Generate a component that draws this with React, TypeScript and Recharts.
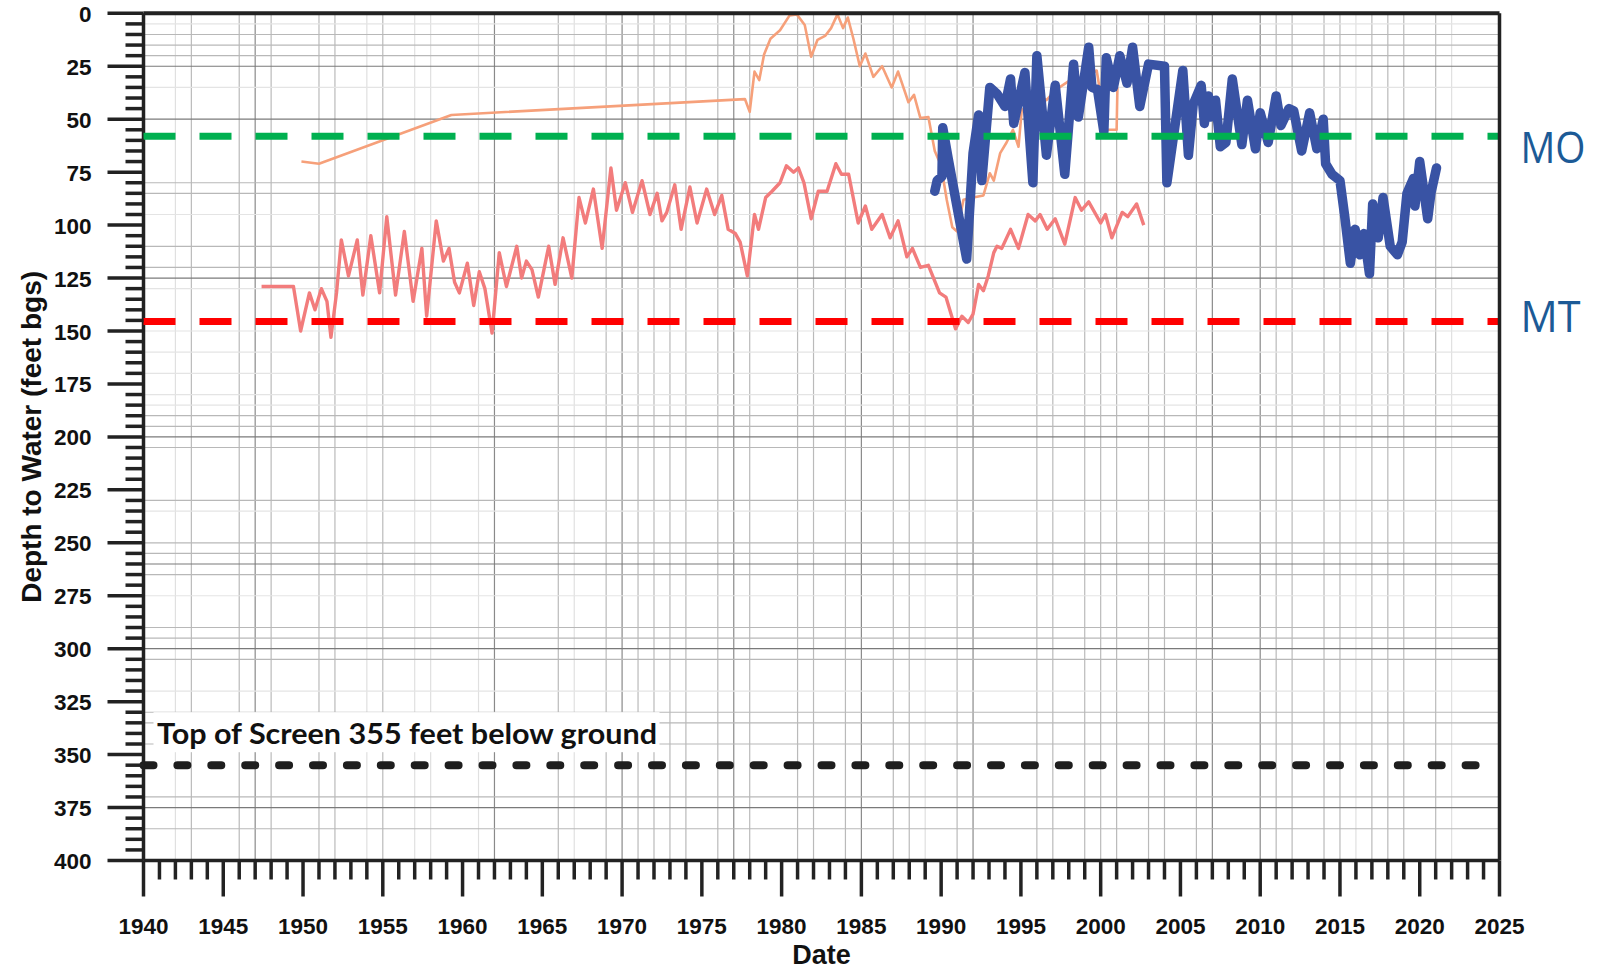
import React from "react";
import { LineChart, Line, XAxis, YAxis, ReferenceLine } from "recharts";

// depth to water hydrograph, three wells + thresholds

const xLabels = [1940, 1945, 1950, 1955, 1960, 1965, 1970, 1975, 1980, 1985, 1990, 1995, 2000, 2005, 2010, 2015, 2020, 2025];
const yLabels = [0, 25, 50, 75, 100, 125, 150, 175, 200, 225, 250, 275, 300, 325, 350, 375, 400];
const xTicks = Array.from({ length: 86 }, (_, i) => 1940 + i);
const yTicks = Array.from({ length: 81 }, (_, i) => i * 5);

const vGridDark = [1947, 1962, 1970, 1977, 1985, 1992, 2007, 2010];
const vGridMid = [1943, 1946, 1948, 1951, 1952, 1955, 1966, 1969, 1971, 1972, 1973, 1974, 1976, 1978, 1981, 1982, 1984, 1987, 1988, 1991, 1996, 1997, 1999, 2000, 2001, 2003, 2004, 2006, 2011, 2012, 2014, 2015, 2017, 2018, 2019, 2021];
const vGridLight = [1942, 1954, 1957, 1958, 1961, 1967, 1989, 2016, 2022];
const hGridDark = [25, 50, 125, 200, 260, 300, 375];
const hGridMid = [10, 15, 20, 80, 85, 110, 120, 190, 195, 205, 230, 250, 255, 265, 290, 295, 305, 330, 335, 345, 370, 385];
const hGridLight = [5, 35, 95, 130, 150, 160, 170, 180, 185, 235, 275, 320];

const MO_LEVEL = 58;
const MT_LEVEL = 145.5;
const SCREEN_TOP = 355;

const orangeWell: [number, number][] = [
  [1949.9, 70], [1951.0, 71], [1959.3, 48], [1977.7, 40.5], [1978.0, 46.5], [1978.3, 27.5],
  [1978.6, 31.5], [1978.9, 19.5], [1979.3, 12], [1979.9, 8], [1980.5, 1], [1980.95, 0.5],
  [1981.45, 5.5], [1981.85, 20.5], [1982.25, 12.5], [1982.75, 10.5], [1983.1, 7], [1983.5, 0.5],
  [1983.85, 7], [1984.15, 2], [1984.5, 12], [1984.9, 25], [1985.25, 19], [1985.75, 30],
  [1986.3, 25], [1986.9, 35], [1987.3, 27.5], [1987.95, 42], [1988.3, 38.5], [1988.7, 49.5],
  [1989.2, 49], [1989.6, 65], [1990.0, 72], [1990.35, 88], [1990.7, 101], [1991.0, 103],
  [1991.4, 88], [1992.0, 87], [1992.65, 86], [1993.05, 75.5], [1993.3, 79], [1993.7, 66],
  [1994.1, 61], [1994.5, 55], [1994.85, 63], [1995.05, 46], [1995.5, 42], [1996.0, 38],
  [1996.6, 41], [1997.2, 36], [1998.0, 32], [1999.0, 30], [1999.75, 27], [2000.35, 55],
  [2001.0, 55], [2001.05, 35],
];

const redWell: [number, number][] = [
  [1947.4, 129], [1949.4, 129], [1949.85, 150], [1950.4, 132], [1950.75, 140], [1951.15, 130],
  [1951.5, 136], [1951.75, 153], [1952.1, 132], [1952.4, 107], [1952.85, 124], [1953.4, 107],
  [1953.75, 133], [1954.25, 105], [1954.8, 132], [1955.25, 96], [1955.8, 133], [1956.35, 103],
  [1956.9, 136], [1957.45, 111], [1957.75, 143], [1958.35, 98], [1958.8, 117], [1959.15, 111],
  [1959.5, 127], [1959.8, 132], [1960.3, 118], [1960.7, 138], [1961.05, 122], [1961.4, 130],
  [1961.85, 151], [1962.3, 113], [1962.75, 129], [1963.4, 110], [1963.7, 125], [1964.0, 117],
  [1964.35, 121], [1964.75, 134], [1965.4, 110], [1965.8, 128], [1966.3, 106], [1966.85, 125],
  [1967.3, 87], [1967.7, 99], [1968.2, 83], [1968.75, 111], [1969.3, 73], [1969.65, 93],
  [1970.2, 80], [1970.65, 94], [1971.25, 79], [1971.75, 95], [1972.2, 85], [1972.5, 98],
  [1972.8, 94], [1973.3, 81], [1973.7, 102], [1974.25, 82], [1974.7, 99], [1975.3, 83],
  [1975.8, 95], [1976.25, 86], [1976.65, 102], [1977.1, 104], [1977.4, 108], [1977.85, 124],
  [1978.3, 95], [1978.55, 102], [1979.0, 87], [1979.4, 84], [1979.9, 80], [1980.3, 72],
  [1980.75, 75], [1981.05, 73], [1981.4, 80], [1981.85, 97], [1982.3, 84], [1982.85, 84],
  [1983.4, 71], [1983.75, 76], [1984.2, 76], [1984.8, 99], [1985.25, 91], [1985.65, 102],
  [1986.3, 95], [1986.8, 106], [1987.3, 98], [1987.85, 115], [1988.2, 111], [1988.7, 120],
  [1989.2, 119], [1989.9, 132], [1990.3, 134], [1990.9, 149], [1991.3, 143], [1991.7, 146],
  [1992.0, 142], [1992.35, 128], [1992.65, 131], [1992.95, 124], [1993.3, 113], [1993.5, 110],
  [1993.8, 111], [1994.35, 102], [1994.85, 111], [1995.45, 95], [1995.9, 98], [1996.2, 95],
  [1996.65, 102], [1997.15, 97], [1997.75, 109], [1998.4, 87], [1998.8, 93], [1999.25, 89],
  [2000.0, 99], [2000.3, 95], [2000.7, 106], [2001.35, 94], [2001.7, 96], [2002.25, 90],
  [2002.7, 100],
];

const blueWell: [number, number][] = [
  [1989.6, 84], [1989.75, 79], [1990.05, 77], [1990.1, 54], [1990.45, 69], [1991.6, 116],
  [1992.0, 66], [1992.35, 48], [1992.55, 79], [1993.05, 35], [1993.5, 38], [1994.0, 44],
  [1994.35, 31], [1994.55, 52], [1995.25, 28], [1995.75, 80], [1996.0, 20], [1996.6, 67],
  [1997.15, 34], [1997.75, 76], [1998.3, 24], [1998.6, 49], [1999.25, 16], [1999.45, 35],
  [1999.8, 36], [2000.2, 56], [2000.35, 21], [2000.8, 35], [2001.2, 20], [2001.65, 33],
  [2002.0, 16], [2002.45, 44], [2003.0, 24], [2004.0, 25], [2004.15, 80], [2005.15, 27],
  [2005.5, 67], [2005.8, 43], [2006.3, 34], [2006.5, 52], [2006.75, 39], [2006.9, 49],
  [2007.2, 41], [2007.5, 63], [2007.85, 61], [2008.25, 31], [2008.85, 62], [2009.2, 41],
  [2009.7, 64], [2010.0, 47], [2010.5, 61], [2011.0, 39], [2011.3, 53], [2011.8, 45],
  [2012.1, 46], [2012.6, 65], [2013.1, 47], [2013.55, 64], [2013.95, 50], [2014.1, 71],
  [2014.5, 76], [2015.0, 79], [2015.3, 96], [2015.65, 118], [2015.95, 102], [2016.25, 114],
  [2016.5, 104], [2016.85, 123], [2017.05, 90], [2017.4, 106], [2017.7, 87], [2018.15, 110],
  [2018.6, 114], [2018.9, 108], [2019.2, 85], [2019.6, 78], [2019.7, 91], [2020.0, 70],
  [2020.5, 97], [2020.7, 85], [2021.05, 73],
];

const toPoints = (s: [number, number][]) => s.map(([year, depth]) => ({ year, depth }));

const INK = "#222";
const TICK_FONT = "'Liberation Sans', Arial, sans-serif";

function XTick(props: any) {
  const { x, y, payload } = props;
  const major = xLabels.includes(payload.value);
  return (
    <g>
      <line x1={x} x2={x} y1={y} y2={y + (major ? 36 : 19)} stroke={INK} strokeWidth={3.5} />
      {major && (
        <text x={x} y={y + 73.5} textAnchor="middle" fontFamily={TICK_FONT} fontWeight={700} fontSize={22.5} fill="#111">
          {payload.value}
        </text>
      )}
    </g>
  );
}

function YTick(props: any) {
  const { x, y, payload } = props;
  const major = yLabels.includes(payload.value);
  return (
    <g>
      <line x1={x - (major ? 36 : 18)} x2={x} y1={y} y2={y} stroke={INK} strokeWidth={3.5} />
      {major && (
        <text x={x - 52} y={y + 8.5} textAnchor="end" fontFamily={TICK_FONT} fontWeight={700} fontSize={22.5} fill="#111">
          {payload.value}
        </text>
      )}
    </g>
  );
}

const dateLabel = (p: any) => {
  const vb = p.viewBox;
  return (
    <text x={vb.x + vb.width / 2} y={vb.y + 103.5} textAnchor="middle" fontFamily={TICK_FONT} fontWeight={700} fontSize={27} fill="#111">
      Date
    </text>
  );
};

const depthLabel = (p: any) => {
  const vb = p.viewBox;
  const cx = vb.x + 41;
  const cy = vb.y + vb.height / 2;
  return (
    <text x={cx} y={cy} transform={`rotate(-90, ${cx}, ${cy})`} textAnchor="middle" fontFamily={TICK_FONT} fontWeight={700} fontSize={28} fill="#111">
      Depth to Water (feet bgs)
    </text>
  );
};

const sideLabel = (txt: string, dy: number) => (p: any) => {
  const vb = p.viewBox;
  return (
    <text x={vb.x + vb.width + 21} y={vb.y + dy} fontFamily="'Open Sans', sans-serif" fontSize={43} fill="#1c5a96" textLength={txt === "MO" ? 65 : 60} lengthAdjust="spacingAndGlyphs">
      {txt}
    </text>
  );
};

const screenLabel = (p: any) => {
  const vb = p.viewBox;
  return (
    <g>
      <rect x={vb.x + 10} y={vb.y - 53} width={506} height={40} fill="#fff" />
      <text x={vb.x + 13.5} y={vb.y - 21.5} fontFamily="Lato, sans-serif" fontWeight={700} fontSize={28} fill="#111" textLength={500} lengthAdjust="spacingAndGlyphs">
        Top of Screen 355 feet below ground
      </text>
    </g>
  );
};

export default function App() {
  const gridV = (vals: number[], color: string) =>
    vals.map((v) => <ReferenceLine key={`v${v}`} x={v} stroke={color} strokeWidth={1.2} zIndex={-50} />);
  const gridH = (vals: number[], color: string) =>
    vals.map((v) => <ReferenceLine key={`h${v}`} y={v} stroke={color} strokeWidth={1.2} zIndex={-50} />);

  return (
    <div style={{ position: "absolute", left: 0, top: 0, width: 1603, height: 970, background: "#fff" }}>
      <LineChart width={1603} height={970} margin={{ top: 13.3, right: 103.5, bottom: 9.5, left: 0 }}>
        {gridV(vGridLight, "#e0e0e0")}
        {gridV(vGridMid, "#bababa")}
        {gridV(vGridDark, "#8a8a8a")}
        {gridH(hGridLight, "#e4e4e4")}
        {gridH(hGridMid, "#b8b8b8")}
        {gridH(hGridDark, "#7a7a7a")}

        <XAxis
          type="number"
          dataKey="year"
          domain={[1940, 2025]}
          ticks={xTicks}
          interval={0}
          tick={(p: any) => <XTick {...p} />}
          tickLine={false}
          tickSize={0}
          tickMargin={0}
          axisLine={{ stroke: INK, strokeWidth: 3.5 }}
          height={100}
          label={dateLabel}
        />
        <YAxis
          type="number"
          domain={[0, 400]}
          reversed
          ticks={yTicks}
          interval={0}
          tick={(p: any) => <YTick {...p} />}
          tickLine={false}
          tickSize={0}
          tickMargin={0}
          axisLine={{ stroke: INK, strokeWidth: 3.5 }}
          width={143.5}
          label={depthLabel}
        />

        <Line data={toPoints(orangeWell)} dataKey="depth" type="linear" stroke="#f6a07a" strokeWidth={2.6} dot={false} activeDot={false} isAnimationActive={false} strokeLinejoin="round" />
        <Line data={toPoints(redWell)} dataKey="depth" type="linear" stroke="#f27c7c" strokeWidth={3.4} dot={false} activeDot={false} isAnimationActive={false} strokeLinejoin="round" />
        <Line data={toPoints(blueWell)} dataKey="depth" type="linear" stroke="#3953a4" strokeWidth={9.5} dot={false} activeDot={false} isAnimationActive={false} strokeLinejoin="round" strokeLinecap="round" />

        <ReferenceLine y={MO_LEVEL} stroke="#00b050" strokeWidth={7} strokeDasharray="32 24" zIndex={1500} label={sideLabel("MO", 27)} />
        <ReferenceLine y={MT_LEVEL} stroke="#ff0000" strokeWidth={7} strokeDasharray="32 24" zIndex={1500} label={sideLabel("MT", 10.5)} />
        <ReferenceLine y={SCREEN_TOP} stroke="#1e1e1e" strokeWidth={8} strokeDasharray="10 23.9" strokeLinecap="round" zIndex={1500} label={screenLabel} />

        <ReferenceLine y={0} stroke={INK} strokeWidth={4} zIndex={1600} />
        <ReferenceLine x={2025} stroke={INK} strokeWidth={3.5} zIndex={1600} />
      </LineChart>
    </div>
  );
}
